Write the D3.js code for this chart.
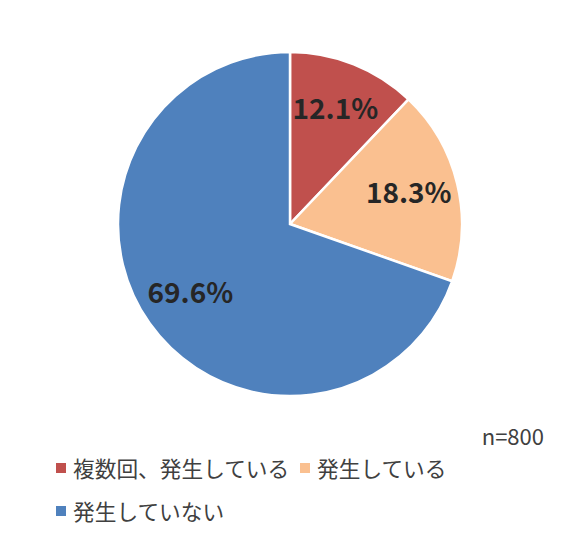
<!DOCTYPE html>
<html><head><meta charset="utf-8">
<script src="https://cdn.jsdelivr.net/npm/d3@7"></script>
<style>html,body{margin:0;padding:0;background:#fff;}</style>
</head><body>
<svg id="chart" width="581" height="538"></svg>
<script>
const categories = ["複数回、発生している", "発生している", "発生していない"];
const values = [12.1, 18.3, 69.6];
const colors = ["#C0504D", "#FAC090", "#4F81BD"];
const sampleNote = "n=800";

const svg = d3.select("#chart");
const cx = 290, cy = 224, R = 172;
const font = "'Noto Sans CJK JP', 'Noto Sans', sans-serif";

const pie = d3.pie().sort(null).value(d => d)(values);
const arc = d3.arc().innerRadius(0).outerRadius(R);
const labelArc = d3.arc().innerRadius(R * 0.71).outerRadius(R * 0.71);

const g = svg.append("g").attr("transform", `translate(${cx},${cy})`);
g.selectAll("path.slice").data(pie).enter().append("path")
  .attr("class", "slice")
  .attr("d", arc)
  .attr("fill", (d, i) => colors[i])
  .attr("stroke", "#fff")
  .attr("stroke-width", 2.5)
  .attr("stroke-linejoin", "miter");

g.selectAll("text.lbl").data(pie).enter().append("text")
  .attr("class", "lbl")
  .attr("transform", d => { const c = labelArc.centroid(d); return `translate(${c[0]},${c[1] - 4})`; })
  .attr("text-anchor", "middle")
  .attr("dominant-baseline", "central")
  .attr("font-family", font)
  .attr("font-weight", "bold")
  .attr("font-size", 28)
  .attr("fill", "#262626")
  .text(d => d.data.toFixed(1) + "%");

svg.append("text")
  .attr("x", 544).attr("y", 445)
  .attr("text-anchor", "end")
  .attr("font-family", font)
  .attr("font-size", 22)
  .attr("fill", "#404040")
  .text(sampleNote);

// legend
const legendPos = [[56, 468], [300, 468], [56, 511]];
const lg = svg.append("g");
categories.forEach((c, i) => {
  const [x, y] = legendPos[i];
  lg.append("rect").attr("x", x).attr("y", y - 5).attr("width", 10).attr("height", 10).attr("fill", colors[i]);
  lg.append("text").attr("x", x + 17).attr("y", y - 1)
    .attr("dominant-baseline", "central")
    .attr("font-family", font)
    .attr("font-size", 21.7)
    .attr("fill", "#404040")
    .text(c);
});
</script>
</body></html>
